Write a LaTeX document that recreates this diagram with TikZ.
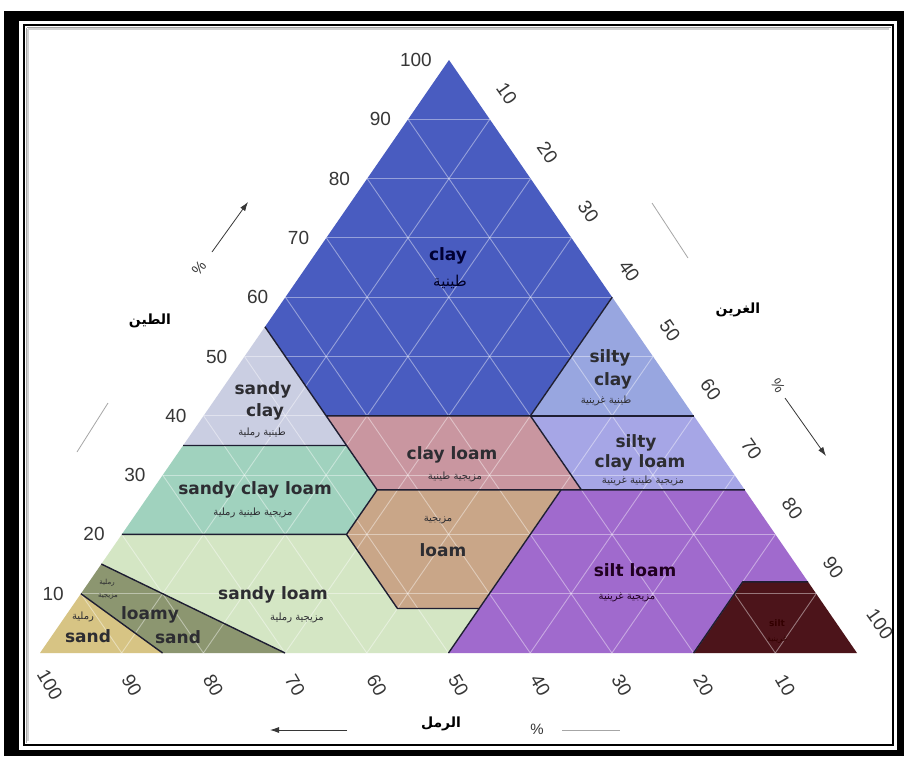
\documentclass[tikz,border=0pt]{standalone}
\usepackage{fontspec}
\setmainfont{Liberation Sans}
\newfontfamily\labfont{DejaVu Sans}
\newfontfamily\arabicfont[Script=Arabic]{DejaVu Sans}
\TeXXeTstate=1
\usetikzlibrary{arrows.meta}
\definecolor{clayC}{RGB}{73,92,192}
\definecolor{sandyclayC}{RGB}{202,206,226}
\definecolor{siltyclayC}{RGB}{152,166,224}
\definecolor{clayloamC}{RGB}{201,150,160}
\definecolor{siltyclayloamC}{RGB}{166,166,230}
\definecolor{sandyclayloamC}{RGB}{160,210,190}
\definecolor{loamC}{RGB}{201,166,136}
\definecolor{siltloamC}{RGB}{160,106,205}
\definecolor{siltC}{RGB}{76,20,26}
\definecolor{sandyloamC}{RGB}{212,230,196}
\definecolor{loamysandC}{RGB}{140,150,112}
\definecolor{sandC}{RGB}{215,196,132}
\definecolor{bnd}{RGB}{30,30,50}
\definecolor{labtext}{RGB}{45,45,50}
\definecolor{numc}{RGB}{55,55,55}
\newcommand\tpt[3]{\coordinate (#1) at ({857-8.17*(#2)-4.08*(#3)},{653-5.93*(#3)});}
\begin{document}
\begin{tikzpicture}[x=1pt,y=-1pt,
  region/.style={draw=bnd,line width=1.4pt,line join=round},
  gridl/.style={white,opacity=0.42,line width=0.9pt},
  lab/.style={font=\labfont\bfseries\fontsize{17}{19}\selectfont,text=labtext,inner sep=0pt},
  ar/.style={font=\arabicfont\fontsize{10}{12}\selectfont,text=labtext,inner sep=0pt},
  artitle/.style={font=\arabicfont\bfseries\fontsize{14}{16}\selectfont,text=black,inner sep=0pt},
  num/.style={font=\fontsize{19}{21}\selectfont,text=numc,inner sep=0pt},
  pct/.style={font=\fontsize{15}{17}\selectfont,text=numc,inner sep=0pt},
  axarrow/.style={draw=numc,line width=0.8pt,-{Latex[length=9pt,width=6pt]}},
  axline/.style={draw=gray!70,line width=0.8pt}
  ]
\useasboundingbox (0,0) rectangle (906,758);
% frame
\fill[white] (0,0) rectangle (906,758);
\fill[black] (4,11) rectangle (904,756);
\fill[white] (19,21) rectangle (897,750);
\draw[black,line width=2pt] (24,25) rectangle (893,745);
\draw[gray!70,line width=1.5pt] (26.5,27.5) -- (890.5,27.5);
\draw[gray!70,line width=1.5pt] (26.5,27.5) -- (26.5,742.5);
\draw[gray!35,line width=1.5pt] (28,29) -- (889,29);
\draw[gray!35,line width=1.5pt] (28,29) -- (28,741);
% vertices
\tpt{BL}{100}{0}
\tpt{A}{0}{100}
\tpt{BR}{0}{0}
\tpt{v2}{45}{55}
\tpt{v3}{45}{40}
\tpt{v4}{20}{40}
\tpt{v5}{0}{60}
\tpt{v6}{65}{35}
\tpt{v7}{45}{35}
\tpt{v8}{0}{40}
\tpt{v9}{45}{27.5}
\tpt{v10}{20}{27.5}
\tpt{v11}{0}{27.5}
\tpt{v12}{80}{20}
\tpt{v13}{52.5}{20}
\tpt{v14}{52.5}{7.5}
\tpt{v15}{42.5}{7.5}
\tpt{v16}{22.5}{27.5}
\tpt{v17}{50}{0}
\tpt{v18}{20}{0}
\tpt{v19}{8}{12}
\tpt{v20}{0}{12}
\tpt{v22}{85}{15}
\tpt{v23}{70}{0}
\tpt{v24}{90}{10}
\tpt{v25}{85}{0}
% region fills
\fill[clayC] (A) -- (v2) -- (v3) -- (v4) -- (v5) -- cycle;
\fill[sandyclayC] (v2) -- (v6) -- (v7) -- cycle;
\fill[siltyclayC] (v5) -- (v4) -- (v8) -- cycle;
\fill[clayloamC] (v3) -- (v9) -- (v10) -- (v4) -- cycle;
\fill[siltyclayloamC] (v4) -- (v10) -- (v11) -- (v8) -- cycle;
\fill[sandyclayloamC] (v7) -- (v6) -- (v12) -- (v13) -- (v9) -- cycle;
\fill[loamC] (v9) -- (v13) -- (v14) -- (v15) -- (v16) -- cycle;
\fill[siltloamC] (v16) -- (v15) -- (v17) -- (v18) -- (v19) -- (v20) -- (v11) -- (v10) -- cycle;
\fill[siltC] (v19) -- (v18) -- (BR) -- (v20) -- cycle;
\fill[sandyloamC] (v12) -- (v22) -- (v23) -- (v17) -- (v15) -- (v14) -- (v13) -- cycle;
\fill[loamysandC] (v22) -- (v24) -- (v25) -- (v23) -- cycle;
\fill[sandC] (v24) -- (BL) -- (v25) -- cycle;
% grid
\begin{scope}
\clip (BL) -- (A) -- (BR) -- cycle;
\foreach \k in {10,20,...,90} {
  \draw[gridl] ({40+4.09*\k},{653-5.93*\k}) -- ({857-4.08*\k},{653-5.93*\k});
  \draw[gridl] ({857-8.17*\k},653) -- ({449-4.09*\k},{60+5.93*\k});
  \draw[gridl] ({40+8.17*\k},653) -- ({449+4.08*\k},{60+5.93*\k});
}
\end{scope}
% boundaries
\draw[region] (v2) -- (v7) (v3) -- (v4) -- (v5);
\draw[region] (v6) -- (v7) -- (v9);
\draw[region] (v4) -- (v8);
\draw[region] (v4) -- (v10);
\draw[region] (v12) -- (v13) -- (v9) -- (v16) -- (v11);
\draw[region] (v13) -- (v14) -- (v15) -- (v16);
\draw[region] (v15) -- (v17);
\draw[region] (v20) -- (v19) -- (v18);
\draw[region] (v22) -- (v23);
\draw[region] (v24) -- (v25);
% region labels
\node[lab,text=black!80!blue] (tclay) at (448,256) {clay};
\node[font=\arabicfont\fontsize{15}{17}\selectfont,text=black!85!blue,inner sep=0pt] (aclay) at (450,282) {\beginR طينية\endR};
\node[lab] (tsc1) at (263,390) {sandy};
\node[lab] (tsc2) at (265,412) {clay};
\node[ar] (asc) at (262,433) {\beginR طينية رملية\endR};
\node[lab] (tsic1) at (610,358) {silty};
\node[lab] (tsic2) at (613,381) {clay};
\node[ar] (asic) at (606,401) {\beginR طينية غرينية\endR};
\node[lab] (tcl) at (452,455) {clay loam};
\node[ar] (acl) at (455,477) {\beginR مزيجية طينية\endR};
\node[lab] (tsicl1) at (636,443) {silty};
\node[lab] (tsicl2) at (640,463) {clay loam};
\node[ar] (asicl) at (643,481) {\beginR مزيجية طينية غرينية\endR};
\node[lab] (tscl) at (255,490) {sandy clay loam};
\node[ar] (ascl) at (253,513) {\beginR مزيجية طينية رملية\endR};
\node[ar] (aloam) at (438,520) {\beginR مزيجية\endR};
\node[lab] (tloam) at (443,550) {loam};
\node[lab,text=black!75!violet] (tsil) at (635,570) {silt loam};
\node[ar,text=black!75!violet] (asil) at (627,597) {\beginR مزيجية غرينية\endR};
\node[lab,font=\labfont\bfseries\fontsize{9}{10}\selectfont,text=black!80!red] (tsilt) at (777,623) {silt};
\node[ar,font=\arabicfont\fontsize{8}{9}\selectfont,text=black!80!red] (asilt) at (777,640) {\beginR غرينية\endR};
\node[lab] (tsl) at (273,595) {sandy loam};
\node[ar] (asl) at (297,618) {\beginR مزيجية رملية\endR};
\node[ar,font=\arabicfont\fontsize{7}{8}\selectfont] (als1) at (107,583) {\beginR رملية\endR};
\node[ar,font=\arabicfont\fontsize{7}{8}\selectfont] (als2) at (108,597) {\beginR مزيجية\endR};
\node[lab] (tls1) at (150,615) {loamy};
\node[lab] (tls2) at (178,637) {sand};
\node[ar] (asand) at (83,617) {\beginR رملية\endR};
\node[lab] (tsand) at (88,636) {sand};
% axis numbers
\foreach \k in {10,20,...,100}
  \node[num,anchor=east] at ({40+4.09*\k-17},{653-5.93*\k}) {\k};
\foreach \k in {10,20,...,90}
  \node[num,rotate=-55] at ({449+4.08*\k+17},{60+5.93*\k-26}) {\k};
\node[num,rotate=-55] (r100) at (880,624) {100};
\foreach \k in {10,20,...,100}
  \node[num,rotate=-60] at ({857-8.17*\k+10},685) {\k};
% axis titles and arrows
\node[artitle] (tclayax) at (150,321) {\beginR الطين\endR};
\node[artitle] (tsiltax) at (738,310) {\beginR الغرين\endR};
\node[artitle] (tsandax) at (441,724) {\beginR الرمل\endR};
\node[pct,rotate=50] (pl) at (199,268) {\%};
\coordinate (la1) at (212,252);
\coordinate (la2) at (248,202);
\draw[axarrow] (la1) -- (la2);
\coordinate (ll1) at (77,452);
\coordinate (ll2) at (108,403);
\draw[axline] (ll1) -- (ll2);
\node[pct,rotate=-60] (pr) at (778,386) {\%};
\coordinate (ra1) at (785,398);
\coordinate (ra2) at (826,456);
\draw[axarrow] (ra1) -- (ra2);
\coordinate (rl1) at (652,203);
\coordinate (rl2) at (688,258);
\draw[axline] (rl1) -- (rl2);
\node[pct] (pb) at (537,729) {\%};
\coordinate (ba1) at (347,730);
\coordinate (ba2) at (270,730);
\draw[axarrow] (ba1) -- (ba2);
\coordinate (bl1) at (562,730);
\coordinate (bl2) at (620,730);
\draw[axline] (bl1) -- (bl2);
\end{tikzpicture}
\end{document}
